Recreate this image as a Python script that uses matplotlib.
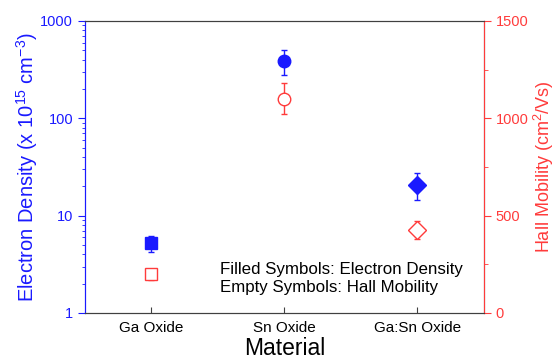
import matplotlib
matplotlib.use("Agg")
import matplotlib.pyplot as plt
from matplotlib.ticker import FixedLocator, FixedFormatter, LogLocator, NullFormatter, MultipleLocator

plt.rcParams["font.family"] = ["Liberation Sans", "DejaVu Sans"]
plt.rcParams["mathtext.fontset"] = "custom"
plt.rcParams["mathtext.rm"] = "Liberation Sans"

materials = ["Ga Oxide", "Sn Oxide", "Ga:Sn Oxide"]
markers = ["s", "o", "D"]

# electron density (x 1e15 cm^-3) with asymmetric error
density = [5.2, 392, 20.7]
density_lo = [4.2, 279, 14.5]
density_hi = [6.2, 506, 27.5]

# hall mobility (cm^2/Vs)
mobility = [200, 1099, 426]
mobility_lo = [170, 1022, 380]
mobility_hi = [228, 1183, 472]

blue = "#1a1aff"
red = "#ff3b3b"
gray = "#404040"

fig = plt.figure(figsize=(5.55, 3.61), dpi=100)
ax = fig.add_axes([0.153, 0.133, 0.719, 0.809])
ax2 = ax.twinx()

xs = [1, 2, 3]
msizes = [8, 9, 9]
for i in range(3):
    ax.errorbar(xs[i], density[i],
                yerr=[[density[i] - density_lo[i]], [density_hi[i] - density[i]]],
                fmt=markers[i], color=blue, ms=msizes[i], mfc=blue, mec=blue,
                elinewidth=1, capsize=2.5, capthick=1)
    ax2.errorbar(xs[i], mobility[i],
                 yerr=[[mobility[i] - mobility_lo[i]], [mobility_hi[i] - mobility[i]]],
                 fmt=markers[i], color=red, ms=msizes[i], mfc="white", mec=red, mew=1,
                 elinewidth=1, capsize=2.5, capthick=1)

ax.set_yscale("log")
ax.set_ylim(1, 1000)
ax.set_xlim(0.5, 3.5)
ax.yaxis.set_major_locator(FixedLocator([1, 10, 100, 1000]))
ax.yaxis.set_major_formatter(FixedFormatter(["1", "10", "100", "1000"]))
ax.yaxis.set_minor_locator(LogLocator(base=10, subs=range(2, 10)))
ax.yaxis.set_minor_formatter(NullFormatter())
ax.set_xticks(xs)
ax.set_xticklabels(materials, fontsize=11)
ax.tick_params(axis="x", direction="in", length=4, color=gray, pad=6)
ax.tick_params(axis="y", which="major", direction="out", length=5, colors=blue, labelsize=10.5)
ax.tick_params(axis="y", which="minor", direction="out", length=2.5, color=blue)

ax2.set_ylim(0, 1500)
ax2.yaxis.set_major_locator(MultipleLocator(500))
ax2.yaxis.set_minor_locator(MultipleLocator(250))
ax2.tick_params(axis="y", which="major", direction="out", length=5, colors=red, labelsize=10.5)
ax2.tick_params(axis="y", which="minor", direction="out", length=3, color=red)

ax.spines["left"].set_color(blue)
ax.spines["top"].set_color(gray)
ax.spines["bottom"].set_color(gray)
ax2.spines["left"].set_color(blue)
ax2.spines["right"].set_color(red)
ax2.spines["top"].set_color(gray)
ax2.spines["bottom"].set_color(gray)

ax.set_ylabel("Electron Density (x 10$^{15}$ cm$^{-3}$)", color=blue, fontsize=14.5, labelpad=0)
ax2.set_ylabel("Hall Mobility (cm$^{2}$/Vs)", color=red, fontsize=13, labelpad=2)
ax.set_xlabel("Material", fontsize=16.5, labelpad=1.5)

ax.text(0.338, 0.118, "Filled Symbols: Electron Density\nEmpty Symbols: Hall Mobility",
        transform=ax.transAxes, fontsize=12.2, color="black", linespacing=1.25,
        va="center", ha="left")

fig.savefig("out.png", dpi=100)
